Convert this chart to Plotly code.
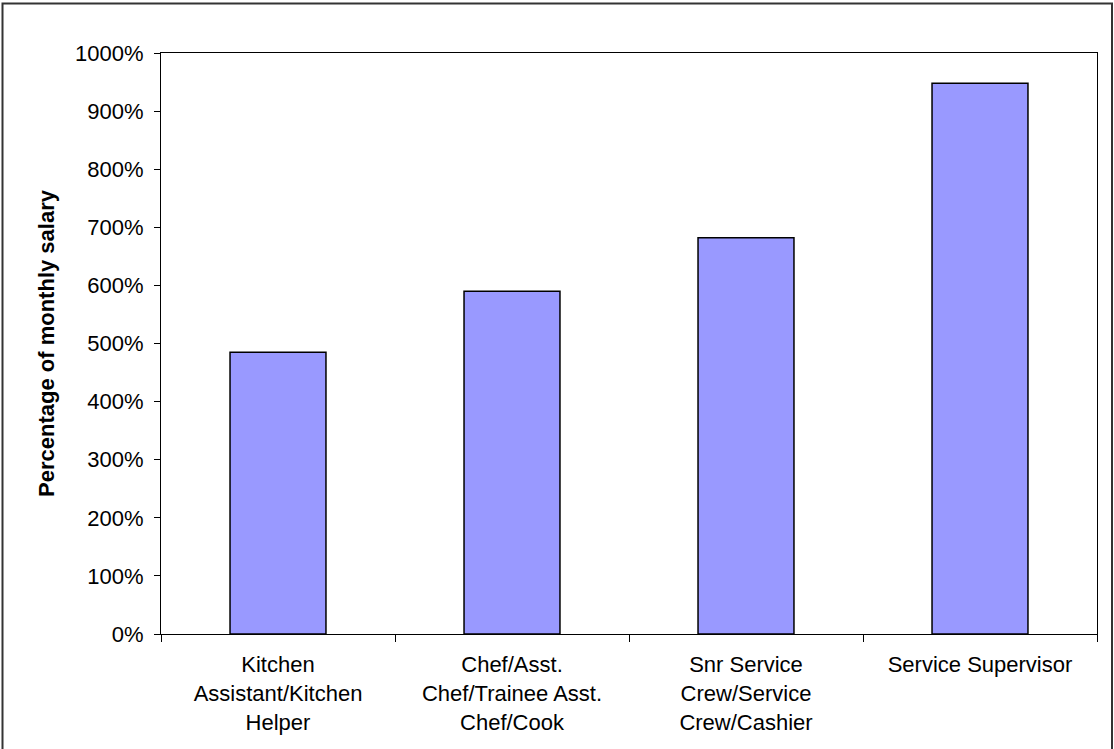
import plotly.graph_objects as go

categories = [
    "Kitchen<br>Assistant/Kitchen<br>Helper",
    "Chef/Asst.<br>Chef/Trainee Asst.<br>Chef/Cook",
    "Snr Service<br>Crew/Service<br>Crew/Cashier",
    "Service Supervisor",
]
values = [4.85, 5.90, 6.82, 9.48]
y_ticks = [0, 1, 2, 3, 4, 5, 6, 7, 8, 9, 10]
y_tick_labels = [f"{v*100}%" for v in y_ticks]

W, H = 1114, 749
L, R, T, B = 161, 1097, 52.5, 634.5

fig = go.Figure()
fig.add_trace(go.Bar(
    x=categories, y=values, width=0.41,
    marker=dict(color="#9999FF", line=dict(color="black", width=1.5)),
))

font = "Liberation Sans, Arial, sans-serif"
fig.update_layout(
    width=W, height=H,
    margin=dict(l=L, r=W - R, t=T, b=H - B, pad=0),
    paper_bgcolor="white", plot_bgcolor="white",
    showlegend=False,
    font=dict(family=font, size=22, color="black"),
    xaxis=dict(
        type="category", tickson="boundaries", ticks="outside", ticklen=7,
        tickcolor="black", showline=True, linecolor="black", linewidth=1,
        mirror=True, showgrid=False, tickfont=dict(size=22), tickangle=0,
        ticklabelstandoff=11,
    ),
    yaxis=dict(
        range=[0, 10], tickvals=y_ticks, ticktext=y_tick_labels,
        ticks="outside", ticklen=6, tickcolor="black",
        showline=True, linecolor="black", linewidth=1, mirror=True,
        showgrid=False, zeroline=False, tickfont=dict(size=22),
        ticklabelstandoff=6,
        title=dict(text="<b>Percentage of monthly salary</b>", font=dict(size=22), standoff=14),
    ),
    bargap=0.59,
)

pw, ph = R - L, B - T
fig.add_shape(
    type="rect", xref="paper", yref="paper",
    x0=(2.5 - L) / pw, x1=(1112 - L) / pw,
    y0=(B - 760) / ph, y1=(B - 3) / ph,
    line=dict(color="#333333", width=2), fillcolor="rgba(0,0,0,0)", layer="above",
)

fig.write_html("out.html")
